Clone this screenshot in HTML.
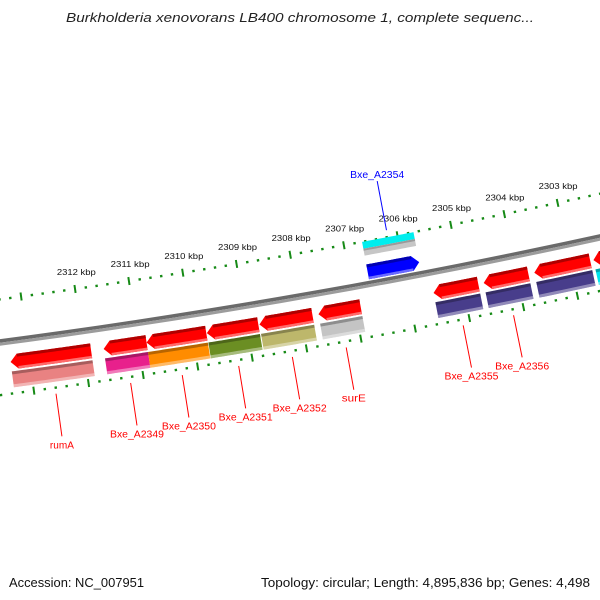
<!DOCTYPE html>
<html><head><meta charset="utf-8">
<style>
html,body{margin:0;padding:0;background:#fff;}
svg{display:block;font-family:"Liberation Sans","DejaVu Sans",sans-serif;}
</style></head>
<body>
<svg id="map" width="600" height="600" viewBox="0 0 600 600" xmlns="http://www.w3.org/2000/svg">
<rect x="0" y="0" width="600" height="600" fill="#fff"/>
<text x="300" y="22" text-anchor="middle" font-size="13" font-style="italic" fill="#222" textLength="468" lengthAdjust="spacingAndGlyphs">Burkholderia xenovorans LB400 chromosome 1, complete sequenc...</text>
<g id="layer"></g>
<text x="9" y="587" font-size="13" fill="#111" textLength="135" lengthAdjust="spacingAndGlyphs">Accession: NC_007951</text>
<text x="261" y="587" font-size="13" fill="#111" textLength="329" lengthAdjust="spacingAndGlyphs">Topology: circular; Length: 4,895,836 bp; Genes: 4,498</text>
</svg>
<script>
// ---- data ----
const tickKbp = [2300,2301,2302,2303,2304,2305,2306,2307,2308,2309,2310,2311,2312,2313,2314];
const tickLabels = ["2303 kbp","2304 kbp","2305 kbp","2306 kbp","2307 kbp","2308 kbp","2309 kbp","2310 kbp","2311 kbp","2312 kbp"];
const tickLabelKbp = [2303,2304,2305,2306,2307,2308,2309,2310,2311,2312];
const revNames = ["rumA","Bxe_A2349","Bxe_A2350","Bxe_A2351","Bxe_A2352","surE","Bxe_A2355","Bxe_A2356","",""];
const revStarts = [2311.87,2310.85,2309.75,2308.79,2307.79,2306.90,2304.72,2303.79,2302.64,2301.5];
const revEnds   = [2313.35,2311.64,2310.85,2309.74,2308.77,2307.68,2305.55,2304.62,2303.68,2302.58];
const revCog    = ["#e98282","#e8208c","#ff8c00","#6b8e23","#bdb76b","#c4c4c4","#483d8b","#483d8b","#483d8b","#00e5ee"];
const fwdNames  = ["Bxe_A2354"];
const fwdStarts = [2305.70];
const fwdEnds   = [2306.66];
const fwdCog    = ["#00eeee"];

// ---- geometry ----
const CX=-948, CY=-6841, R=7246;
const K = 54.8/R;
const aRef = Math.atan2(7156.1, 1137.5);
const NS="http://www.w3.org/2000/svg";
const layer=document.getElementById('layer');
function ang(p){return aRef+(p-2310)*K;}
function pt(p,off){const a=ang(p);return [CX+(R+off)*Math.cos(a), CY+(R+off)*Math.sin(a)];}
function mk(tag,attrs){const e=document.createElementNS(NS,tag);for(const k in attrs)e.setAttribute(k,attrs[k]);layer.appendChild(e);return e;}
function bandPts(p1,p2,r1,r2){const n=24,a=[],b=[];for(let i=0;i<=n;i++){const p=p1+(p2-p1)*i/n;a.push(pt(p,r1));b.push(pt(p,r2));}return a.concat(b.reverse());}
function poly(pts,fill,name){const e=mk('polygon',{points:pts.map(q=>q[0].toFixed(2)+','+q[1].toFixed(2)).join(' '),fill:fill});


return e;}
function band(p1,p2,r1,r2,fill,name){return poly(bandPts(p1,p2,r1,r2),fill,name);}
const HEAD=0.13;
function arrow(p1,p2,r1,r2,headHigh,fill,dark,light,name){
  let pts;
  const rm=(r1+r2)/2;
  if(headHigh){
    const b=bandPts(p1,p2-HEAD,r1,r2);const n=25;
    pts=b.slice(0,n).concat([pt(p2,rm)]).concat(b.slice(n));
    poly(pts,fill,name);
    band(p1,p2-HEAD,r1,r1+3,dark,name+'-shade-top');
    band(p1,p2-HEAD,r2-2.5,r2,light,name+'-shade-bottom');
  } else {
    const b=bandPts(p1+HEAD,p2,r1,r2);const n=25;
    pts=[pt(p1,rm)].concat(b);
    poly(pts,fill,name);
    band(p1+HEAD,p2,r1,r1+3,dark,name+'-shade-top');
    band(p1+HEAD,p2,r2-2.5,r2,light,name+'-shade-bottom');
  }
}
function cogBar(p1,p2,r1,r2,color,name){
  band(p1,p2,r1,r2,color,name);
  band(p1,p2,r1,r1+3,'rgba(0,0,0,0.28)',name+'-shade-top');
  band(p1,p2,r2-3,r2,'rgba(255,255,255,0.4)',name+'-shade-bottom');
}

// backbone
band(2299,2315,-3.5,0,'#6a6a6a','backbone-top');
band(2299,2315,0,3,'#9c9c9c','backbone-bottom');

// rulers
function ruler(off,name){
  for(let i=0;i<tickKbp.length-1;i++){
    for(let j=0;j<5;j++){
      const p=tickKbp[i]+j*0.2;
      const major=(j===0);
      const a=pt(p,off-(major?4:1.2)), b=pt(p,off+(major?4:1.2));
      const l=mk('line',{x1:a[0],y1:a[1],x2:b[0],y2:b[1],stroke:'#168a16','stroke-width':major?2:2.4});
      
      
    }
  }
}
ruler(-43,'outer-ruler');
ruler(52,'inner-ruler');
tickLabels.forEach((t,i)=>{
  const q=pt(tickLabelKbp[i],-55);
  const e=mk('text',{x:q[0]+3,y:q[1]-2,'text-anchor':'middle','font-size':'8',fill:'#111',textLength:'39',lengthAdjust:'spacingAndGlyphs'});
  e.textContent=t;
  
  
});

// reverse-strand features
revStarts.forEach((s,i)=>{
  const e=revEnds[i];
  arrow(s,e,13,28,true,'#ff0000','#b00000','#ff6a6a','gene-arrow');
  cogBar(s,e,30,46,revCog[i],'cog-bar');
  if(revNames[i]){
    const m=(s+e)/2;
    const a=pt(m,58), b=pt(m,101);
    const l=mk('line',{x1:a[0],y1:a[1],x2:b[0],y2:b[1],stroke:'#ff0000','stroke-width':1});
    
    
    const t=mk('text',{x:b[0],y:b[1]+12,'text-anchor':'middle','font-size':'10',fill:'#ff0000',textLength:String(revNames[i].length*6),lengthAdjust:'spacingAndGlyphs'});
    t.textContent=revNames[i];
    
    
  }
});

// forward-strand features
fwdStarts.forEach((s,i)=>{
  const e=fwdEnds[i];
  band(s,e,-43,-36,fwdCog[i],'cog-bar');
  band(s,e,-36,-29,'#c6c6c6','cog-bar-lower');
  band(s,e,-36,-34,'#9a9a9a','cog-bar-shade');
  arrow(s,e,-20,-5,false,'#0000ff','#0000b0','#6a6aff','gene-arrow-forward');
  const m=(s+e)/2;
  const a=pt(m,-50), b=pt(m,-100);
  const l=mk('line',{x1:a[0],y1:a[1],x2:b[0],y2:b[1],stroke:'#0000ff','stroke-width':1});
  
  
  const t=mk('text',{x:b[0],y:b[1]-3,'text-anchor':'middle','font-size':'10',fill:'#0000ff',textLength:String(fwdNames[i].length*6),lengthAdjust:'spacingAndGlyphs'});
  t.textContent=fwdNames[i];
  
  
});
</script>
</body></html>
